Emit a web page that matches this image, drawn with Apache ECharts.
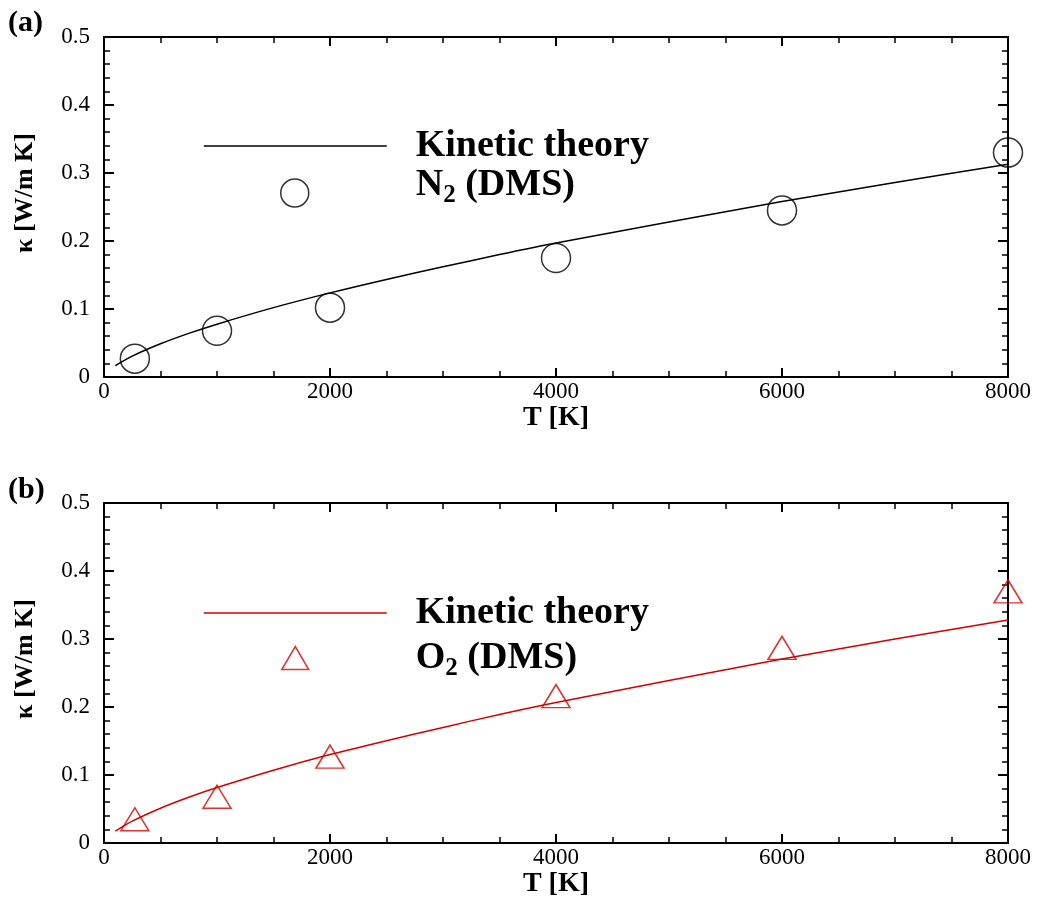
<!DOCTYPE html>
<html>
<head>
<meta charset="utf-8">
<script src="https://cdn.jsdelivr.net/npm/echarts@6/dist/echarts.min.js"></script>
<style>
html,body{margin:0;padding:0;background:#fff;}
#chart{width:1041px;height:900px;}
</style>
</head>
<body>
<div id="chart"></div>
<script>
// ---- data ----
const tKinetic = [100, 250, 500, 750, 1000, 1500, 2000, 2500, 3000, 3500, 4000, 5000, 6000, 7000, 8000];
const n2Kinetic = [0.0166, 0.0307, 0.0488, 0.0641, 0.0777, 0.102, 0.1237, 0.1435, 0.162, 0.180, 0.197, 0.228, 0.258, 0.286, 0.3128];
const o2Kinetic = [0.0175, 0.0322, 0.0512, 0.0672, 0.0815, 0.107, 0.130, 0.1505, 0.170, 0.189, 0.2066, 0.239, 0.2705, 0.300, 0.328];
const tDMS = [273, 1000, 2000, 4000, 6000, 8000];
const n2DMS = [0.027, 0.068, 0.102, 0.175, 0.245, 0.330];
const o2DMS = [0.035, 0.068, 0.127, 0.216, 0.287, 0.370];
const xTicks = [0, 2000, 4000, 6000, 8000];
const yTicks = [0, 0.1, 0.2, 0.3, 0.4, 0.5];
const panelLabels = ['(a)', '(b)'];

const FONT = '"Liberation Serif","Times New Roman",serif';
const RED = '#d40000';
const zip = (a, b) => a.map((v, i) => [v, b[i]]);

const grids = [
  {left: 104, top: 37, width: 904, height: 340},
  {left: 104, top: 503, width: 904, height: 340}
];

function xAx(g, pos) {
  const main = pos === 'bottom';
  return {
    type: 'value', gridIndex: g, position: pos,
    min: xTicks[0], max: xTicks[xTicks.length - 1], interval: xTicks[1] - xTicks[0],
    axisLine: {show: true, onZero: false, lineStyle: {color: '#000', width: 2}},
    axisTick: {show: true, inside: true, length: 9, lineStyle: {color: '#000', width: 2}},
    minorTick: {show: true, splitNumber: 4, length: 6, lineStyle: {color: '#000', width: 1.5}},
    splitLine: {show: false},
    axisLabel: {show: main, margin: 3, fontSize: 23, color: '#000', fontFamily: FONT,
                formatter: v => String(v)},
    name: main ? 'T [K]' : '',
    nameLocation: 'middle', nameGap: 23,
    nameTextStyle: {fontSize: 28, fontWeight: 'bold', color: '#000', fontFamily: FONT}
  };
}
function yAx(g, pos) {
  const main = pos === 'left';
  return {
    type: 'value', gridIndex: g, position: pos,
    min: yTicks[0], max: yTicks[yTicks.length - 1], interval: 0.1,
    axisLine: {show: true, onZero: false, lineStyle: {color: '#000', width: 2}},
    axisTick: {show: true, inside: true, length: 10, lineStyle: {color: '#000', width: 2}},
    minorTick: {show: true, splitNumber: 5, length: 6, lineStyle: {color: '#000', width: 1.5}},
    splitLine: {show: false},
    axisLabel: {show: main, margin: 14, fontSize: 23, color: '#000', fontFamily: FONT},
    name: main ? 'κ [W/m K]' : '',
    nameLocation: 'middle', nameGap: 66,
    nameTextStyle: {fontSize: 26, fontWeight: 'bold', color: '#000', fontFamily: FONT, padding: [0, 0, 0, 28]}
  };
}

const legendText = {fontSize: 38, fontWeight: 'bold', color: '#000', fontFamily: FONT};
const rich = {
  b: {fontSize: 38, fontWeight: 'bold', color: '#000', fontFamily: FONT},
  s: {fontSize: 25, fontWeight: 'bold', color: '#000', fontFamily: FONT, padding: [22, 0, 0, 0]}
};
function lineLegend(name, color, lineY) {
  return {
    data: [name], orient: 'vertical', left: 203, top: lineY - 19, padding: 0,
    itemWidth: 183, itemHeight: 14, selectedMode: false,
    formatter: () => 'Kinetic theory',
    lineStyle: {color: color, width: 1.5},
    itemStyle: {color: 'transparent', borderColor: 'transparent', borderWidth: 0, opacity: 0},
    textStyle: Object.assign({padding: [0, 0, 0, 24]}, legendText)
  };
}
function markLegend(name, icon, color, left, top, w, h, padBottom, label) {
  return {
    data: [{name: name, icon: icon}], orient: 'vertical',
    left: left, top: top, padding: 0,
    itemWidth: w, itemHeight: h, selectedMode: false,
    formatter: () => label,
    itemStyle: {color: 'transparent', borderColor: color, borderWidth: 1.5},
    textStyle: Object.assign({padding: [0, 0, padBottom, 415 - (left + w + 5)], rich: rich}, legendText)
  };
}

const option = {
  backgroundColor: '#fff',
  animation: false,
  title: [
    {text: panelLabels[0], left: 3, top: 3, padding: 5, textStyle: {fontSize: 30, fontWeight: 'bold', color: '#000', fontFamily: FONT}},
    {text: panelLabels[1], left: 3, top: 470, padding: 5, textStyle: {fontSize: 30, fontWeight: 'bold', color: '#000', fontFamily: FONT}}
  ],
  grid: grids,
  xAxis: [xAx(0, 'bottom'), xAx(0, 'top'), xAx(1, 'bottom'), xAx(1, 'top')],
  yAxis: [yAx(0, 'left'), yAx(0, 'right'), yAx(1, 'left'), yAx(1, 'right')],
  legend: [
    lineLegend('Kinetic theory (N2)', '#000', 146),
    markLegend('N2 (DMS)', 'circle', '#000', 280, 166, 28, 28, 16, '{b|N}{s|2}{b| (DMS)}'),
    lineLegend('Kinetic theory (O2)', RED, 613),
    markLegend('O2 (DMS)', 'triangle', RED, 281, 639, 27, 23, 0, '{b|O}{s|2}{b| (DMS)}')
  ],
  series: [
    {name: 'Kinetic theory (N2)', type: 'line', xAxisIndex: 0, yAxisIndex: 0,
     data: zip(tKinetic, n2Kinetic), symbol: 'none', smooth: 0.3,
     lineStyle: {color: '#000', width: 1.5}, itemStyle: {color: '#000'}},
    {name: 'N2 (DMS)', type: 'scatter', xAxisIndex: 0, yAxisIndex: 0,
     data: zip(tDMS, n2DMS), symbol: 'circle', symbolSize: 29,
     itemStyle: {color: 'transparent', borderColor: '#000', borderWidth: 1.5}},
    {name: 'Kinetic theory (O2)', type: 'line', xAxisIndex: 2, yAxisIndex: 2,
     data: zip(tKinetic, o2Kinetic), symbol: 'none', smooth: 0.3,
     lineStyle: {color: RED, width: 1.5}, itemStyle: {color: RED}},
    {name: 'O2 (DMS)', type: 'scatter', xAxisIndex: 2, yAxisIndex: 2,
     data: zip(tDMS, o2DMS), symbol: 'triangle', symbolSize: [28, 23],
     itemStyle: {color: 'transparent', borderColor: RED, borderWidth: 1.5}}
  ]
};

const chart = echarts.init(document.getElementById('chart'), null, {renderer: 'canvas'});
chart.setOption(option);
</script>
</body>
</html>
